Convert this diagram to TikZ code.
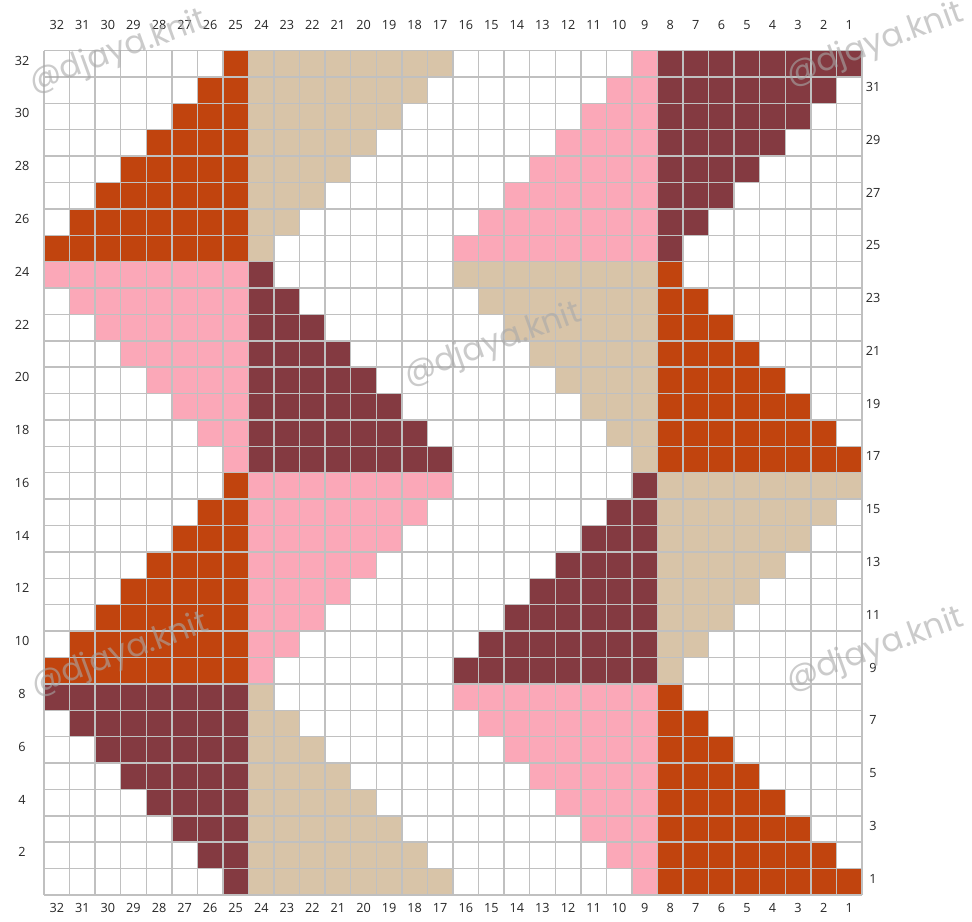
\documentclass[tikz,border=0pt]{standalone}
\usepackage{fontspec}
\setsansfont{Open Sans}
\newfontfamily\wmfont{Poppins}
\usepackage{tikz}
\usetikzlibrary{positioning}
\definecolor{corange}{HTML}{C1440E}
\definecolor{cmaroon}{HTML}{843A41}
\definecolor{ctan}{HTML}{D8C4A8}
\definecolor{cpink}{HTML}{FBA8B8}
\definecolor{gridgray}{HTML}{C0C0C0}
\definecolor{wmgray}{HTML}{A8A8A8}

\begin{document}
\begin{tikzpicture}[
    x=19.17pt, y=19.79pt,
    every node/.style={font=\sffamily\fontsize{9.5}{11}\selectfont, text=black!85},
    gridline/.style={draw=gridgray, line width=1.1pt},
    watermark/.style={font=\wmfont\fontsize{24}{28}\selectfont, text=wmgray, text opacity=0.6, rotate=20}
]
\useasboundingbox (-1.7213,-1.0231) rectangle (36.303,33.915);

% Rows 1-8 and 17-24: triangles growing towards the right
\foreach \o/\ca/\cb/\cc/\cd in {0/cmaroon/ctan/cpink/corange, 16/cpink/cmaroon/ctan/corange}{
  \foreach \k in {1,...,8}{
    \fill[\ca] ({8-\k},{\o+\k-1}) rectangle (8,{\o+\k});
    \fill[\cb] (8,{\o+\k-1}) rectangle ({17-\k},{\o+\k});
    \fill[\cc] ({24-\k},{\o+\k-1}) rectangle (24,{\o+\k});
    \fill[\cd] (24,{\o+\k-1}) rectangle ({33-\k},{\o+\k});
  }
}
% Rows 9-16 and 25-32: triangles shrinking towards the right
\foreach \o/\ca/\cb/\cc/\cd in {8/corange/cpink/cmaroon/ctan, 24/corange/ctan/cpink/cmaroon}{
  \foreach \k in {1,...,8}{
    \fill[\ca] ({\k-1},{\o+\k-1}) rectangle (8,{\o+\k});
    \fill[\cb] (8,{\o+\k-1}) rectangle ({8+\k},{\o+\k});
    \fill[\cc] ({15+\k},{\o+\k-1}) rectangle (24,{\o+\k});
    \fill[\cd] (24,{\o+\k-1}) rectangle ({24+\k},{\o+\k});
  }
}

% Grid
\draw[gridline] (0,0) grid[step=1] (32,32);

% Column numbers
\foreach \col in {1,...,32}{
  \node (top-\col) at ({32.5-\col},32.97) {\col};
  \node (bot-\col) at ({32.5-\col},-0.49) {\col};
}
% Row numbers
\foreach \row in {2,4,...,32}
  \node (left-\row) at (-0.86,{\row-0.38}) {\row};
\foreach \row in {1,3,...,31}
  \node (right-\row) at (32.43,{\row-0.38}) {\row};

% Watermarks
\node[watermark] (wm-tl) at (2.9,31.94) {@djaya.knit};
\node[watermark] (wm-tr) at (32.51,32.21) {@djaya.knit};
\node[watermark] (wm-c)  at (17.56,20.84) {@djaya.knit};
\node[watermark] (wm-ml) at (2.97,9.09) {@djaya.knit};
\node[watermark] (wm-mr) at (32.51,9.28) {@djaya.knit};

\end{tikzpicture}
\end{document}
